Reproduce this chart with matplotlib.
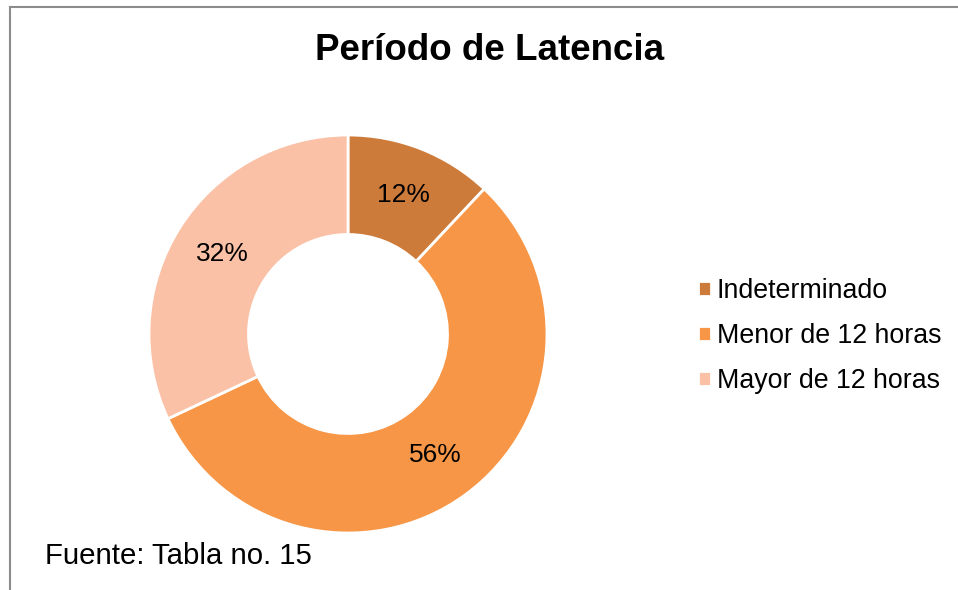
import matplotlib
matplotlib.use('Agg')
import matplotlib.pyplot as plt
from matplotlib.lines import Line2D

plt.rcParams['font.family'] = ['Liberation Sans', 'DejaVu Sans']

# ===== Data =====
categories = ['Indeterminado', 'Menor de 12 horas', 'Mayor de 12 horas']
shares = [12, 56, 32]
colors = ['#CD7B3A', '#F79646', '#FAC1A6']
title = 'Período de Latencia'
source = 'Fuente: Tabla no. 15'

W, H = 958, 590
fig = plt.figure(figsize=(W / 100, H / 100), dpi=100)

# donut centre (348, 334) px, outer radius 199 px
cx, cy, r = 348, 334, 199
ax = fig.add_axes([(cx - r) / W, (H - cy - r) / H, 2 * r / W, 2 * r / H])
wedges, texts, autotexts = ax.pie(
    shares, colors=colors, startangle=90, counterclock=False,
    autopct='%d%%', pctdistance=0.75,
    wedgeprops=dict(width=0.5, edgecolor='white', linewidth=2),
    textprops=dict(fontsize=19, color='black'))
ax.set_xlim(-1, 1)
ax.set_ylim(-1, 1)
ax.set_aspect('equal')

fig.text(490 / W, 1 - 51 / H, title, ha='center', va='center',
         fontsize=26.5, fontweight='bold')

fig.legend(wedges, categories, loc='center left',
           bbox_to_anchor=(698 / W, 1 - 336 / H), frameon=False,
           fontsize=19.3, handlelength=0.5, handleheight=0.5,
           handletextpad=0.2, labelspacing=0.72, borderpad=0,
           borderaxespad=0)

fig.text(45 / W, 1 - 556 / H, source, ha='left', va='center', fontsize=21.2)

# chart-area border (top and left edges only visible)
fig.add_artist(Line2D([10 / W, 10 / W], [0, 1 - 7 / H], color='#8c8c8c', linewidth=1.5))
fig.add_artist(Line2D([10 / W, 1], [1 - 7 / H, 1 - 7 / H], color='#8c8c8c', linewidth=1.5))

fig.savefig('out.png', dpi=100)
